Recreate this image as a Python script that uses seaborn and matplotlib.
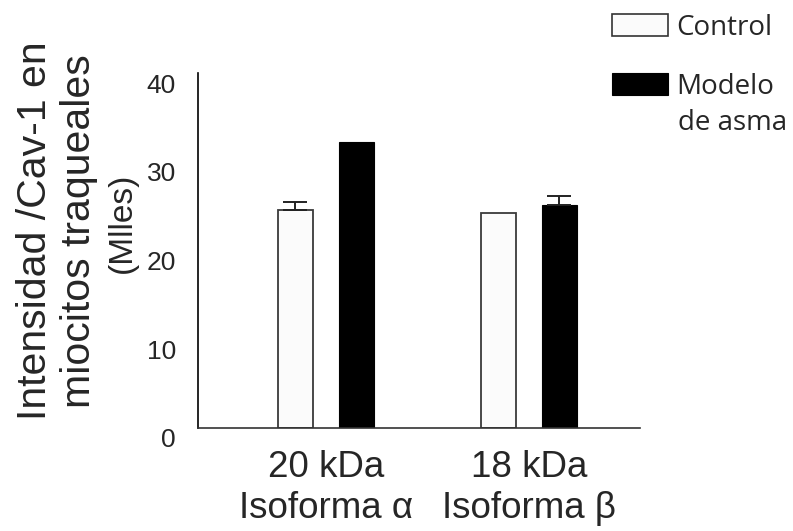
import numpy as np
import pandas as pd
import seaborn as sns
import matplotlib.pyplot as plt
from matplotlib.transforms import ScaledTranslation

# datos
isoformas = ["20 kDa\nIsoforma α", "18 kDa\nIsoforma β"]
grupos = ["Control", "Modelo"]
control = [24.6, 24.2]
modelo = [32.2, 25.1]
err_control = [0.9, 0.0]
err_modelo = [0.0, 1.0]
y_ticks = [0, 10, 20, 30, 40]

df = pd.DataFrame({
    "isoforma": isoformas * 2,
    "grupo": [grupos[0]] * 2 + [grupos[1]] * 2,
    "valor": control + modelo,
})
errores = err_control + err_modelo

sns.set_style("white")
plt.rcParams["font.family"] = ["Liberation Sans", "DejaVu Sans"]

fig = plt.figure(figsize=(7.93, 5.31), dpi=100)
ax = fig.add_axes([0.2497, 0.194, 0.5573, 0.6685])

sns.barplot(data=df, x="isoforma", y="valor", hue="grupo", order=isoformas,
            hue_order=grupos, palette=["#fbfbfb", "black"], width=0.6, gap=0.43,
            errorbar=None, saturation=1, ax=ax, legend=True)

# bordes de las barras
for patch in ax.patches:
    if patch.get_facecolor()[0] > 0.5:
        patch.set_edgecolor("#3a3a3a")
        patch.set_linewidth(1.3)
    else:
        patch.set_edgecolor("black")
        patch.set_linewidth(0.8)

# barras de error (solo hacia arriba)
barras = [p for p in ax.patches if p.get_height() > 0]
for p, e in zip(barras, errores):
    if e > 0:
        xc = p.get_x() + p.get_width() / 2
        ax.errorbar(xc, p.get_height(), yerr=[[0], [e]], fmt="none",
                    ecolor="#222222", elinewidth=1.4, capsize=8.5, capthick=1.4)

ax.set_ylim(0, 40)
ax.set_xlim(-0.63, 1.547)
ax.set_yticks(y_ticks)
ax.set_xlabel("")
ax.set_ylabel("")

for s in ["top", "right"]:
    ax.spines[s].set_visible(False)
ax.spines["left"].set_color("black")
ax.spines["left"].set_linewidth(1.2)
ax.spines["bottom"].set_color("#333333")
ax.spines["bottom"].set_linewidth(1.2)

ax.tick_params(axis="y", direction="in", length=6.5, width=1, color="#444444",
               labelsize=19, pad=16)
ax.tick_params(axis="x", length=0, labelsize=26.5, pad=16)
ax.yaxis.get_major_ticks()[-1].tick1line.set_visible(False)
ax.yaxis.get_major_ticks()[0].tick1line.set_visible(False)

desplazar = ScaledTranslation(0, -0.1, fig.dpi_scale_trans)
for lab in ax.get_yticklabels():
    lab.set_transform(lab.get_transform() + desplazar)
for lab in ax.get_xticklabels():
    lab.set_linespacing(1.22)

# leyenda
leg = ax.legend(loc="upper left", bbox_to_anchor=(0.7617, 0.99), bbox_transform=fig.transFigure,
                frameon=False, handlelength=2.0, handleheight=0.85, handletextpad=0.3,
                labelspacing=1.12, borderpad=0.3, borderaxespad=0,
                prop={"family": ["Open Sans", "DejaVu Sans"], "size": 20})
for h in leg.legend_handles:
    if h.get_facecolor()[0] > 0.5:
        h.set_edgecolor("#333333")
        h.set_linewidth(1.2)
fig.text(0.8555, 1 - 123 / 531, "de asma", ha="left", va="center",
         fontsize=20, family=["Open Sans", "DejaVu Sans"])

# titulo del eje y
fig.text(57 / 793, 1 - 231 / 531, "Intensidad /Cav-1 en\nmiocitos traqueales",
         rotation=90, ha="center", va="center", multialignment="center",
         fontsize=29.5, linespacing=1.22)
fig.text(122 / 793, 1 - 223 / 531, "(Mlles)", rotation=90, ha="center", va="center",
         fontsize=24)

fig.savefig("out.png", dpi=100)
